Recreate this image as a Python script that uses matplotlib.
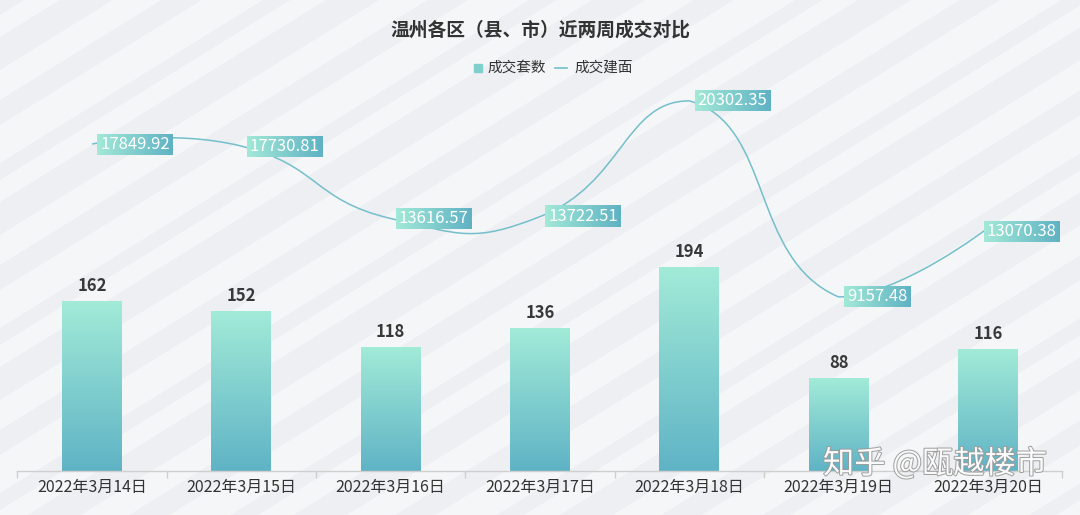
import matplotlib

matplotlib.use("Agg")
import matplotlib.pyplot as plt
import matplotlib.patheffects as pe
import numpy as np
from matplotlib.path import Path
from matplotlib.patches import PathPatch, Polygon

plt.rcParams["font.family"] = ["Noto Sans CJK SC", "DejaVu Sans"]

# data
dates = ["2022年3月14日", "2022年3月15日", "2022年3月16日", "2022年3月17日",
         "2022年3月18日", "2022年3月19日", "2022年3月20日"]
units_sold = [162, 152, 118, 136, 194, 88, 116]
area_sold = [17849.92, 17730.81, 13616.57, 13722.51, 20302.35, 9157.48, 13070.38]

title = "温州各区（县、市）近两周成交对比"
bar_name = "成交套数"
line_name = "成交建面"

W, H = 1080, 515
fig = plt.figure(figsize=(W / 100, H / 100), dpi=100)

# striped light background
bg = fig.add_axes([0, 0, 1, 1], zorder=-5)
bg.set_xlim(0, W)
bg.set_ylim(H, 0)
bg.axis("off")
bg.add_patch(Polygon([[0, 0], [W, 0], [W, H], [0, H]], closed=True, color="#edeff2", lw=0))
slope = 0.62
for c in range(-700, 1400, 55):
    w = 22 + (c // 55) % 3 * 8
    pts = [[0, c], [0, c + w], [W, c + w - slope * W], [W, c - slope * W]]
    bg.add_patch(Polygon(pts, closed=True, color="white", alpha=0.45, lw=0))

# main axes (pixel geometry)
left, right, bottom, top = 17.4, 1062.5, 471, 90
ax = fig.add_axes([left / W, (H - bottom) / H, (right - left) / W, (bottom - top) / H])
ax.set_facecolor("none")
x = np.arange(len(dates))
ax.set_xlim(-0.5, len(dates) - 0.5)
ax.set_ylim(0, 363.5)

bar_w = 0.40
bars = ax.bar(x, units_sold, width=bar_w, color="none", zorder=2)
grad = np.linspace(0, 1, 256).reshape(-1, 1)
cmap = matplotlib.colors.LinearSegmentedColormap.from_list("bar", ["#5fb3c5", "#a2ebd8"])
for rect in bars:
    x0 = rect.get_x()
    h = rect.get_height()
    ax.imshow(grad, extent=[x0, x0 + bar_w, 0, h], origin="lower", aspect="auto",
              cmap=cmap, zorder=2)
    ax.text(x0 + bar_w / 2, h + 6, f"{int(h)}", ha="center", va="bottom",
            fontsize=12, color="#383838", fontweight="bold", zorder=3)
ax.set_xlim(-0.5, len(dates) - 0.5)
ax.set_ylim(0, 363.5)

for s in ["top", "right", "left"]:
    ax.spines[s].set_visible(False)
ax.spines["bottom"].set_color("#cfcfcf")
ax.spines["bottom"].set_linewidth(1)
ax.set_yticks([])
ax.set_xticks(x)
ax.set_xticklabels(dates, fontsize=11.5, color="#333333", fontweight="medium")
ax.tick_params(axis="x", which="major", length=0, pad=6)
ax.set_xticks(np.arange(-0.5, len(dates), 1.0), minor=True)
ax.tick_params(axis="x", which="minor", length=5, color="#cfcfcf", width=1)

# line on the twin axis
ax2 = ax.twinx()
ax2.set_ylim(-739, 20921)
ax2.set_yticks([])
for s in ax2.spines.values():
    s.set_visible(False)

# bezier smoothing (control points clamped to the points' bounding box), pixel space
px = ax2.transData.transform(np.column_stack([x, area_sold]))
smooth = 0.5
n = len(px)
lo, hi = px.min(axis=0), px.max(axis=0)
cin = px.copy()
cout = px.copy()
for i in range(1, n - 1):
    p, c, nx = px[i - 1], px[i], px[i + 1]
    v = nx - p
    d0 = np.hypot(*(c - p))
    d1 = np.hypot(*(nx - c))
    s = d0 + d1
    cin[i] = np.clip(c - v * smooth * d0 / s, lo, hi)
    cout[i] = np.clip(c + v * smooth * d1 / s, lo, hi)
verts = [px[0]]
codes = [Path.MOVETO]
for i in range(n - 1):
    verts += [cout[i], cin[i + 1], px[i + 1]]
    codes += [Path.CURVE4] * 3
inv = ax2.transData.inverted()
path = Path(inv.transform(np.array(verts)), codes)
ax2.add_patch(PathPatch(path, fill=False, edgecolor="#74bfcc", lw=1.1, zorder=2))

# value labels with gradient boxes, kept inside the chart on the right
box_cmap = matplotlib.colors.LinearSegmentedColormap.from_list("box", ["#a3e9d8", "#5fb2c3"])
hgrad = np.linspace(0, 1, 256).reshape(1, -1)
labels = []
for xi, yi in zip(x, area_sold):
    t = ax2.annotate(f"{yi:.2f}", (xi, yi), xytext=(6, 0), textcoords="offset points",
                     ha="left", va="center", fontsize=12, color="white", zorder=5)
    labels.append(t)
fig.canvas.draw()
renderer = fig.canvas.get_renderer()
for t in labels:
    bb = t.get_window_extent(renderer)
    shift = max(0.0, bb.x1 + 3 - (right - 3))
    if shift > 0:
        t.xyann = (6 - shift * 72 / 100, -3 * 72 / 100)
        fig.canvas.draw()
        bb = t.get_window_extent(renderer)
    x0, x1 = bb.x0 - 3, bb.x1 + 3
    yc = (bb.y0 + bb.y1) / 2
    y0, y1 = yc - 10.5, yc + 10.5
    (dx0, dy0), (dx1, dy1) = inv.transform([[x0, y0], [x1, y1]])
    ax2.imshow(hgrad, extent=[dx0, dx1, dy0, dy1], aspect="auto", cmap=box_cmap, zorder=4)
ax2.set_xlim(-0.5, len(dates) - 0.5)
ax2.set_ylim(-739, 20921)

# title and legend
fig.text(0.5, 1 - 30 / H, title, ha="center", va="center", fontsize=13.5,
         fontweight="bold", color="#333333")
fig.patches.append(matplotlib.patches.Rectangle((474 / W, 1 - 72 / H), 8 / W, 8 / H,
                                                transform=fig.transFigure, color="#7fcfcc"))
fig.text(487 / W, 1 - 68 / H, bar_name, ha="left", va="center", fontsize=10.5, color="#333333")
fig.add_artist(matplotlib.lines.Line2D([555 / W, 567 / W], [1 - 68 / H, 1 - 68 / H],
                                       transform=fig.transFigure, color="#74bfcc", lw=1.2))
fig.text(574 / W, 1 - 68 / H, line_name, ha="left", va="center", fontsize=10.5, color="#333333")

# watermark
fig.text(935 / W, 1 - 464 / H, "知乎 @瓯越楼市", ha="center", va="center", fontsize=22.5,
         color="white", alpha=0.95,
         path_effects=[pe.withStroke(linewidth=1.4, foreground="#9a9a9a")])

fig.savefig("out.png", dpi=100)
